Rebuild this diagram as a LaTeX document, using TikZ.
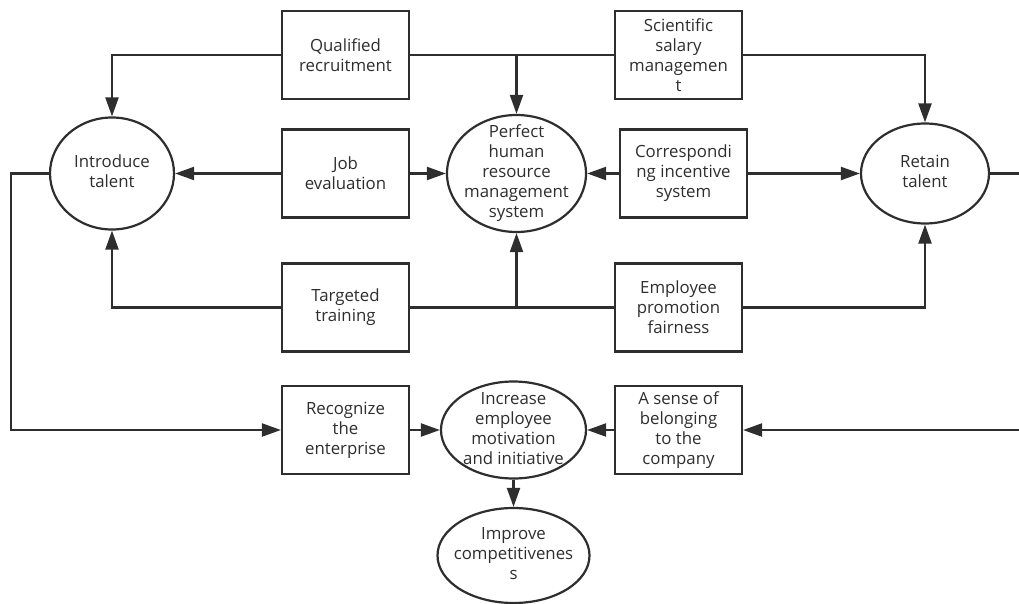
\documentclass[tikz,border=0pt]{standalone}
\usepackage{fontspec}
\setmainfont{Open Sans}
\usepackage{tikz}
\usetikzlibrary{shapes.geometric,arrows.meta,positioning}

\definecolor{ink}{HTML}{2E2E2E}
% text of an oval, centred but taking no room
\newcommand{\ovaltext}[1]{\hbox to 0pt{\hss\vbox to 0pt{\vss\hbox{\begin{tabular}{@{}c@{}}#1\end{tabular}}\vss}\hss}}

\begin{document}
\begin{tikzpicture}[
        x=1pt, y=-1pt,
        box/.style={rectangle, draw=ink, fill=white, line width=2.2pt, minimum width=127pt, minimum height=88pt, inner sep=0pt, align=center, text=ink, font=\fontsize{16.8}{20}\selectfont},
        oval/.style={ellipse, draw=ink, fill=white, line width=2.2pt, inner sep=0pt, text=ink, font=\fontsize{16.8}{20}\selectfont},
        arrow/.style={-{Triangle[length=19pt,width=13pt]}, line width=2.2pt, draw=ink},
        link/.style={line width=2.2pt, draw=ink}
    ]
    \useasboundingbox (0,0) rectangle (1019,604);
    \clip (0,0) rectangle (1019,604);

    % Left column of boxes
    \node[box] (qual) at (345.5,55) {Qualified\\recruitment};
    \node[box] (job) at (345.5,173.5) {Job\\evaluation};
    \node[box] (targ) at (345.5,307.5) {Targeted\\training};
    \node[box] (recog) at (345.5,430) {Recognize\\the\\enterprise};

    % Right column of boxes
    \node[box] (sci) at (678.5,55) {Scientific\\salary\\managemen\\t};
    \node[box] (corr) at (683.5,173.5) {Correspondi\\ng incentive\\system};
    \node[box] (promo) at (678.5,307.5) {Employee\\promotion\\fairness};
    \node[box] (belong) at (678.5,430) {A sense of\\belonging\\to the\\company};

    % Ovals
    \node[oval, minimum width=124pt, minimum height=112pt] (intro) at (112,173.5) {\ovaltext{Introduce\\talent}};
    \node[oval, minimum width=139pt, minimum height=117pt] (hrm) at (516.5,173.5) {\ovaltext{Perfect\\human\\resource\\management\\system}};
    \node[oval, minimum width=128pt, minimum height=100pt] (retain) at (925,173.5) {\ovaltext{Retain\\talent}};
    \node[oval, minimum width=145pt, minimum height=97pt] (incr) at (513.5,430) {\ovaltext{Increase\\employee\\motivation\\and initiative}};
    \node[oval, minimum width=152pt, minimum height=95pt] (impr) at (513.5,555.5) {\ovaltext{Improve\\competitivenes\\s}};

    % Top line
    \draw[arrow] (qual.west) -| (intro.north);
    \draw[link] (qual.east) -- (sci.west);
    \draw[arrow] (qual.east) -| (hrm.north);
    \draw[arrow] (sci.east) -| (retain.north);

    % Middle line
    \draw[arrow] (job) -- (intro);
    \draw[arrow] (job) -- (hrm);
    \draw[arrow] (corr) -- (hrm);
    \draw[arrow] (corr) -- (retain);

    % Bottom line
    \draw[arrow] (targ.west) -| (intro.south);
    \draw[link] (targ.east) -- (promo.west);
    \draw[arrow] (targ.east) -| (hrm.south);
    \draw[arrow] (promo.east) -| (retain.south);

    % Outer loops
    \draw[arrow] (intro.west) -- ++(-38,0) |- (recog.west);
    \draw[arrow] (retain.east) -- ++(45,0) |- (belong.east);

    % Lower row
    \draw[arrow] (recog) -- (incr);
    \draw[arrow] (belong) -- (incr);
    \draw[arrow] (incr) -- (impr);

\end{tikzpicture}
\end{document}
